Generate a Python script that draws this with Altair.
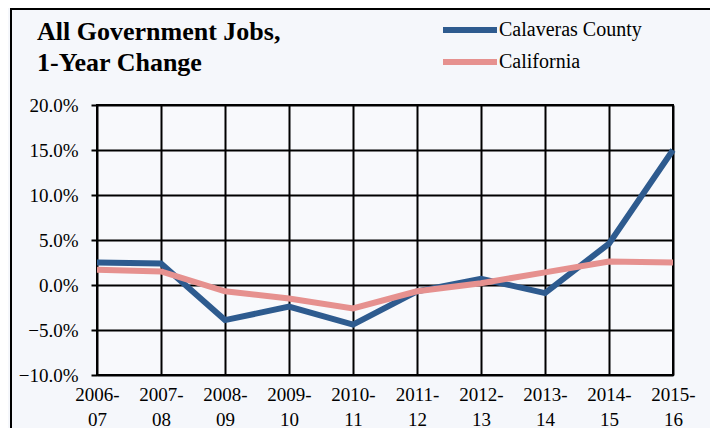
import altair as alt
import pandas as pd

years = ["2006-07", "2007-08", "2008-09", "2009-10", "2010-11",
         "2011-12", "2012-13", "2013-14", "2014-15", "2015-16"]
calaveras = [2.5, 2.4, -3.9, -2.4, -4.4, -0.7, 0.7, -0.9, 4.6, 15.0]
california = [1.7, 1.5, -0.7, -1.5, -2.6, -0.7, 0.2, 1.4, 2.6, 2.5]
series = ["Calaveras County", "California"]
colors = ["#2e5b8f", "#e6918f"]
y_ticks = [-10, -5, 0, 5, 10, 15, 20]
title_lines = ["All Government Jobs,", "1-Year Change"]

rows = []
for name, vals in zip(series, [calaveras, california]):
    for yr, v in zip(years, vals):
        rows.append({"year": yr, "series": name, "value": v})
df = pd.DataFrame(rows)

FONT = "Liberation Serif"

lines = alt.Chart(df).mark_line(strokeWidth=6, strokeCap="butt", strokeJoin="miter").encode(
    x=alt.X("year:O", sort=years, scale=alt.Scale(type="point", padding=0),
            axis=alt.Axis(title=None, labelAngle=0, ticks=False, domain=False,
                          grid=True, gridColor="black", gridWidth=2, gridOpacity=1,
                          labelFont=FONT, labelFontSize=19, labelColor="black",
                          labelPadding=10, labelLineHeight=25, labelBaseline="top",
                          labelExpr="[slice(datum.label,0,5), slice(datum.label,5)]")),
    y=alt.Y("value:Q", scale=alt.Scale(domain=[-10, 20], nice=False),
            axis=alt.Axis(title=None, values=y_ticks, ticks=True, tickSize=6,
                          tickColor="black", tickWidth=2, domain=False,
                          grid=True, gridColor="black", gridWidth=2, gridOpacity=1,
                          labelFont=FONT, labelFontSize=19, labelColor="black",
                          labelPadding=13,
                          labelExpr="format(datum.value, '.1f') + '%'")),
    color=alt.Color("series:N", sort=series,
                    scale=alt.Scale(domain=series, range=colors),
                    legend=alt.Legend(title=None, orient="none", legendX=361, legendY=-87,
                                      symbolType="M-3,0H3", symbolSize=324,
                                      symbolStrokeWidth=6, symbolFillColor="transparent",
                                      labelFont=FONT,
                                      labelFontSize=20, labelColor="black",
                                      labelOffset=17, rowPadding=8, padding=0)),
    order=alt.Order("series:N"),
)

frame = alt.Chart(pd.DataFrame({"a": [0]})).mark_rect(
    fill=None, stroke="black", strokeWidth=2, clip=False
).encode(x=alt.value(-86), x2=alt.value(614), y=alt.value(-96), y2=alt.value(340))

title1 = alt.Chart(pd.DataFrame({"t": [title_lines[0]]})).mark_text(
    align="left", baseline="alphabetic", font=FONT, fontSize=26, fontWeight="bold",
    color="black", clip=False
).encode(text="t:N", x=alt.value(-60), y=alt.value(-65))
title2 = alt.Chart(pd.DataFrame({"t": [title_lines[1]]})).mark_text(
    align="left", baseline="alphabetic", font=FONT, fontSize=26, fontWeight="bold",
    color="black", clip=False
).encode(text="t:N", x=alt.value(-60), y=alt.value(-34))

chart = alt.layer(frame, lines, title1, title2).properties(
    width=576, height=270,
    autosize=alt.AutoSizeParams(type="none"),
    padding={"left": 89, "top": 97, "right": 37, "bottom": 53},
    background="#f5f7fb",
).configure_view(stroke="black", strokeWidth=2, fill="#f8f9fc")

chart.save("out.html", embed_options={"renderer": "svg", "actions": False})
